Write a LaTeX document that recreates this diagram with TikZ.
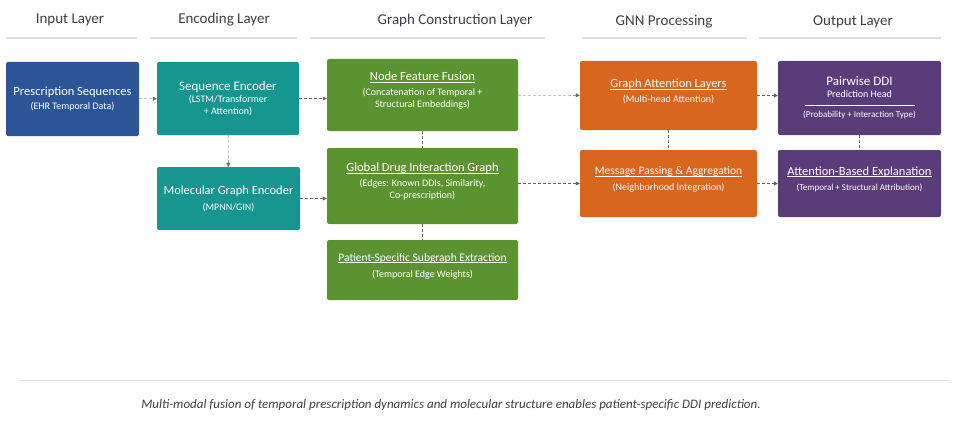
\documentclass[tikz,border=0pt]{standalone}
\usepackage{fontspec}
\setmainfont{Carlito}
\usetikzlibrary{arrows.meta}
\definecolor{inblue}{HTML}{2C5597}
\definecolor{encteal}{HTML}{17958F}
\definecolor{grgreen}{HTML}{5C9331}
\definecolor{gnnorange}{HTML}{D8661F}
\definecolor{outpurple}{HTML}{5B3C7A}
\definecolor{headgray}{HTML}{3A3F47}
\tikzset{
  box/.style={draw=none, rounded corners=2pt, text=white, align=center, inner sep=2pt},
  head/.style={font=\fontsize{15}{17}\selectfont, text=headgray},
  flow/.style={densely dashed, draw=gray!80!black, -{Triangle[length=4pt,width=4pt]}},
  link/.style={densely dashed, draw=gray!80!black}
}
\newcommand{\ttl}{\fontsize{12.5}{14}\selectfont}
\newcommand{\bigttl}{\fontsize{13}{15}\selectfont}
\newcommand{\smttl}{\fontsize{11.5}{13}\selectfont}
\newcommand{\subt}{\fontsize{10}{13}\selectfont}
\newcommand{\smsub}{\fontsize{9}{11}\selectfont}
\newcommand{\uttl}[1]{\underline{\smash{#1}}}
\begin{document}
\begin{tikzpicture}[x=1pt,y=-1pt]
\useasboundingbox (0,0) rectangle (975,428);
% layer headings
\node[head] (h1) at (70,20) {Input Layer};
\node[head] (h2) at (224,20) {Encoding Layer};
\node[head] (h3) at (455,21) {Graph Construction Layer};
\node[head] (h4) at (664,22) {GNN Processing};
\node[head] (h5) at (853,22) {Output Layer};
\foreach \a/\b in {6/137,150/297,310/545,582/747,759/941}
  \draw[black!12, line width=1.2pt] (\a,38) -- (\b,38);
% boxes
\node[box, fill=inblue, minimum width=133, minimum height=74] (pres) at (72.5,99)
  {\ttl Prescription Sequences\\[2pt]\subt (EHR Temporal Data)};
\node[box, fill=encteal, minimum width=142, minimum height=73] (seq) at (228,98.5)
  {\bigttl Sequence Encoder\\\subt (LSTM/Transformer\\+ Attention)};
\node[box, fill=encteal, minimum width=143, minimum height=63] (mol) at (228.5,198.5)
  {\ttl Molecular Graph Encoder\\[4pt]\subt (MPNN/GIN)};
\node[box, fill=grgreen, minimum width=191, minimum height=72] (fuse) at (422.5,95)
  {\ttl\uttl{Node Feature Fusion}\\[3pt]\subt (Concatenation of Temporal +\\Structural Embeddings)};
\node[box, fill=grgreen, minimum width=191, minimum height=76] (glob) at (422.5,186)
  {\ttl\uttl{Global Drug Interaction Graph}\\[3pt]\subt (Edges: Known DDIs, Similarity,\\Co-prescription)};
\node[box, fill=grgreen, minimum width=191, minimum height=60] (pat) at (422.5,270)
  {\smttl\uttl{Patient-Specific Subgraph Extraction}\\[4pt]\subt (Temporal Edge Weights)};
\node[box, fill=gnnorange, minimum width=177, minimum height=69] (gat) at (668.5,95.5)
  {\ttl\uttl{Graph Attention Layers}\\[3pt]\subt (Multi-head Attention)};
\node[box, fill=gnnorange, minimum width=177, minimum height=67] (msg) at (668.5,183.5)
  {\smttl\uttl{Message Passing \& Aggregation}\\[4pt]\subt (Neighborhood Integration)};
\node[box, fill=outpurple, minimum width=163, minimum height=74] (pair) at (859.5,98)
  {\bigttl Pairwise DDI\\Prediction Head\\[-4pt]\rule{110pt}{0.4pt}\\\smsub (Probability + Interaction Type)};
\node[box, fill=outpurple, minimum width=163, minimum height=67] (expl) at (859.5,183.5)
  {\ttl\uttl{Attention-Based Explanation}\\[3pt]\smsub (Temporal + Structural Attribution)};
% connectors
\draw[flow] (pres) -- (seq);
\draw[flow] (seq) -- (mol);
\draw[flow] (seq) -- (fuse.west |- seq);
\draw[flow] (mol) -- (glob.west |- mol);
\draw[flow] (fuse) -- (gat);
\draw[flow] (glob.east |- msg) -- (msg);
\draw[flow] (gat) -- (pair.west |- gat);
\draw[flow] (msg) -- (expl);
\draw[link] (fuse) -- (glob);
\draw[link] (glob) -- (pat);
\draw[link] (gat) -- (msg);
\draw[link] (pair) -- (expl);
% caption
\draw[black!12, line width=1pt] (20,380) -- (950,380);
\node[font=\fontsize{13}{15}\selectfont\itshape, text=headgray] (cap) at (451,405)
  {Multi-modal fusion of temporal prescription dynamics and molecular structure enables patient-specific DDI prediction.};
\end{tikzpicture}
\end{document}
